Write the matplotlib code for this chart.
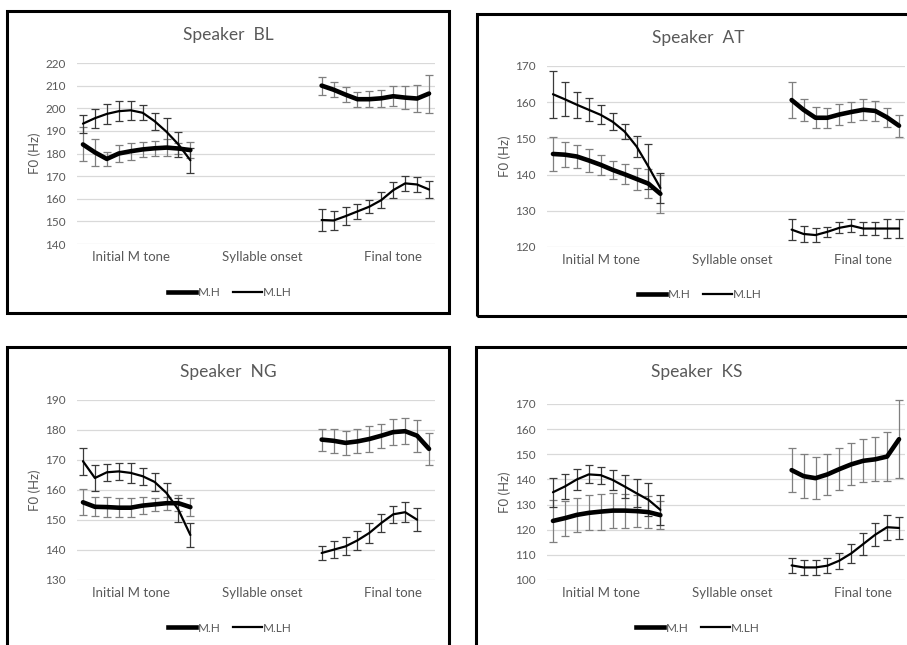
#!/usr/bin/env python3

import matplotlib
matplotlib.use('Agg')
import matplotlib.pyplot as plt
from matplotlib.patches import Rectangle
from matplotlib.lines import Line2D
import numpy as np

plt.rcParams['font.family'] = ['Lato', 'DejaVu Sans']

nan = np.nan

categories = ['Initial M tone', 'Syllable onset', 'Final tone']
category_index = [4, 15, 26]
initial_x = list(range(0, 10))
final_x = list(range(20, 30))

speakers = ['BL', 'AT', 'NG', 'KS']

# mean F0 (Hz) and error bar half widths, initial part then final part
bl_h_init = [184, 180.5, 177.6, 180, 181, 181.8, 182.3, 182.6, 182.2, 181.5]
bl_h_init_err = [7.5, 6, 3.2, 3.7, 3.7, 3.5, 3.4, 3.8, 2.5, 3.5]
bl_lh_init = [193.2, 195.6, 197.5, 198.7, 199.1, 198, 194.3, 189.6, 184, 177]
bl_lh_init_err = [4, 4.2, 4.3, 4.4, 4.3, 3.4, 3.7, 6.2, 5.7, 5.5]
bl_h_final = [210, 208.2, 206, 204, 204, 204.4, 205.3, 204.7, 204.3, 206.5]
bl_h_final_err = [4, 3.2, 3.4, 3.4, 3.5, 3.8, 4.4, 5.1, 5.9, 8.4]
bl_lh_final = [150.6, 150.4, 152.3, 154.4, 156.5, 159.4, 163.8, 166.8, 166.3, 164.1]
bl_lh_final_err = [5, 4.1, 4, 3.5, 3, 3.7, 3.5, 3.2, 3.4, 3.7]

at_h_init = [145.7, 145.5, 145, 143.9, 142.7, 141.3, 140.1, 138.8, 137.5, 134.7]
at_h_init_err = [4.7, 3.5, 3.3, 3.3, 2.8, 2.5, 2.8, 3.1, 4, 5.3]
at_lh_init = [162.2, 160.8, 159.3, 157.9, 156.5, 154.6, 151.9, 147.8, 142.2, 136.3]
at_lh_init_err = [6.5, 4.7, 3.6, 3.2, 2.6, 2.3, 2.2, 2.8, 6.2, 4.1]
at_h_final = [160.6, 157.9, 155.7, 155.7, 156.6, 157.3, 157.9, 157.6, 155.8, 153.5]
at_h_final_err = [4.9, 3.1, 2.9, 2.8, 2.8, 2.8, 2.9, 2.8, 2.7, 3.1]
at_lh_final = [124.8, 123.6, 123.3, 124.2, 125.3, 125.9, 125.1, 125.1, 125.1, 125.1]
at_lh_final_err = [2.9, 2.2, 1.9, 1.4, 1.5, 1.8, 1.7, 1.8, 2.6, 2.6]

ng_h_init = [155.9, 154.4, 154.3, 154.1, 154.1, 154.8, 155.2, 155.6, 155.6, 154.3]
ng_h_init_err = [4.3, 3.2, 3.3, 3.2, 3.1, 2.8, 2.3, 2.2, 2.7, 3]
ng_lh_init = [169.6, 164, 165.9, 166.2, 165.7, 164.6, 162.7, 159, 153.4, 145]
ng_lh_init_err = [4.5, 4.4, 2.8, 2.9, 3.2, 2.9, 3.1, 3.4, 4, 4.1]
ng_h_final = [176.8, 176.4, 175.7, 176.2, 177, 178.1, 179.3, 179.6, 178.1, 173.7]
ng_h_final_err = [3.7, 4.1, 3.9, 4, 4.2, 4, 4.3, 4.3, 5.3, 5.2]
ng_lh_final = [139, 140.1, 141.2, 143.2, 145.7, 149, 151.9, 152.6, 150.1, nan]
ng_lh_final_err = [2.4, 2.8, 3, 3.1, 3.2, 2.9, 2.9, 3.3, 3.9, nan]

ks_h_init = [123.5, 124.6, 125.9, 126.7, 127.2, 127.6, 127.6, 127.4, 127, 125.8]
ks_h_init_err = [8.4, 7, 6.8, 7, 7.2, 7, 6.8, 6.5, 6.3, 5.6]
ks_lh_init = [134.9, 137.2, 140, 142, 141.7, 139.8, 137.2, 134.5, 131.9, 127.9]
ks_lh_init_err = [5.8, 4.9, 4.1, 3.6, 3.4, 4.1, 4.4, 5.6, 6.6, 6.1]
ks_h_final = [143.7, 141.3, 140.5, 142, 144.1, 146, 147.4, 148, 149.1, 156]
ks_h_final_err = [8.8, 8.7, 8.4, 8.3, 8.4, 8.3, 8.5, 8.7, 9.6, 15.5]
ks_lh_final = [105.8, 105, 105, 105.7, 107.7, 110.6, 114.3, 118, 121, 120.7]
ks_lh_final_err = [3, 3.1, 3.1, 3.1, 3.2, 3.8, 4.5, 4.5, 5, 4.2]

series = {
    'BL': (bl_h_init, bl_h_init_err, bl_lh_init, bl_lh_init_err,
           bl_h_final, bl_h_final_err, bl_lh_final, bl_lh_final_err),
    'AT': (at_h_init, at_h_init_err, at_lh_init, at_lh_init_err,
           at_h_final, at_h_final_err, at_lh_final, at_lh_final_err),
    'NG': (ng_h_init, ng_h_init_err, ng_lh_init, ng_lh_init_err,
           ng_h_final, ng_h_final_err, ng_lh_final, ng_lh_final_err),
    'KS': (ks_h_init, ks_h_init_err, ks_lh_init, ks_lh_init_err,
           ks_h_final, ks_h_final_err, ks_lh_final, ks_lh_final_err),
}

y_limits = {'BL': (140, 220), 'AT': (120, 170), 'NG': (130, 190), 'KS': (100, 170)}

W, H = 907, 645

# pixel layout: plot area (left, top, right, bottom), border box, title and legend centres
plot_box = {'BL': (77, 63, 435, 244), 'AT': (547, 66, 905, 247),
            'NG': (77, 400, 435, 580), 'KS': (547, 404, 905, 580)}
frame_box = {'BL': (7, 11, 449, 313), 'AT': (477, 14, 915, 316),
             'NG': (7, 347, 449, 660), 'KS': (476, 347, 915, 660)}
title_pos = {'BL': (228, 35), 'AT': (698, 38), 'NG': (228, 372), 'KS': (697, 372)}
legend_pos = {'BL': (230, 293), 'AT': (700, 295), 'NG': (230, 628), 'KS': (698, 628)}

grey = '#595959'

figure = plt.figure(figsize=(W / 100, H / 100), dpi=100)

for spk in speakers:
    l, t, r, b = plot_box[spk]
    ax = figure.add_axes([l / W, 1 - b / H, (r - l) / W, (b - t) / H])
    h_i, h_ie, lh_i, lh_ie, h_f, h_fe, lh_f, lh_fe = series[spk]

    for xs, ys, es in [(initial_x, h_i, h_ie), (final_x, h_f, h_fe)]:
        eb = ax.errorbar(xs, ys, yerr=es, fmt='none', ecolor='#7f7f7f',
                         elinewidth=0.9, capsize=2.6, capthick=0.9, zorder=2)
        for part in eb.lines[1] + eb.lines[2]:
            part.set_clip_on(False)
        ax.plot(xs, ys, color='black', lw=3.3, solid_capstyle='round',
                solid_joinstyle='round', zorder=3)
    for xs, ys, es in [(initial_x, lh_i, lh_ie), (final_x, lh_f, lh_fe)]:
        eb = ax.errorbar(xs, ys, yerr=es, fmt='none', ecolor='#3a3a3a',
                         elinewidth=0.9, capsize=2.6, capthick=0.9, zorder=2)
        for part in eb.lines[1] + eb.lines[2]:
            part.set_clip_on(False)
        ax.plot(xs, ys, color='black', lw=1.6, solid_capstyle='round',
                solid_joinstyle='round', zorder=3)

    lo, hi = y_limits[spk]
    ax.set_ylim(lo, hi)
    ax.set_yticks(np.arange(lo, hi + 1, 10))
    ax.set_xlim(-0.5, 29.5)
    ax.set_xticks(category_index)
    ax.set_xticklabels(categories)
    ax.grid(axis='y', color='#d9d9d9', lw=0.9)
    ax.set_axisbelow(True)
    for s in ax.spines.values():
        s.set_visible(False)
    ax.tick_params(length=0, colors=grey, labelsize=8.5)
    ax.tick_params(axis='x', labelsize=9.5, pad=5)
    ax.tick_params(axis='y', pad=8)
    ax.set_ylabel('F0 (Hz)', color=grey, fontsize=9.5, labelpad=3)

    tx, ty = title_pos[spk]
    figure.text(tx / W, 1 - ty / H, 'Speaker  ' + spk, color=grey,
                fontsize=12.5, ha='center', va='center')

    handles = [Line2D([], [], color='black', lw=3.3),
               Line2D([], [], color='black', lw=1.6)]
    lx, ly = legend_pos[spk]
    figure.legend(handles, ['M.H', 'M.LH'], loc='center',
                  bbox_to_anchor=(lx / W, 1 - ly / H), ncol=2, frameon=False,
                  fontsize=8.5, labelcolor=grey, handlelength=2.4,
                  handletextpad=0.1, columnspacing=1.1)

    fl, ft, fr, fb = frame_box[spk]
    figure.patches.append(Rectangle((fl / W, 1 - fb / H), (fr - fl) / W,
                                    (fb - ft) / H, transform=figure.transFigure,
                                    fill=False, ec='black', lw=2.2,
                                    figure=figure))

figure.savefig('out.png', dpi=100)
